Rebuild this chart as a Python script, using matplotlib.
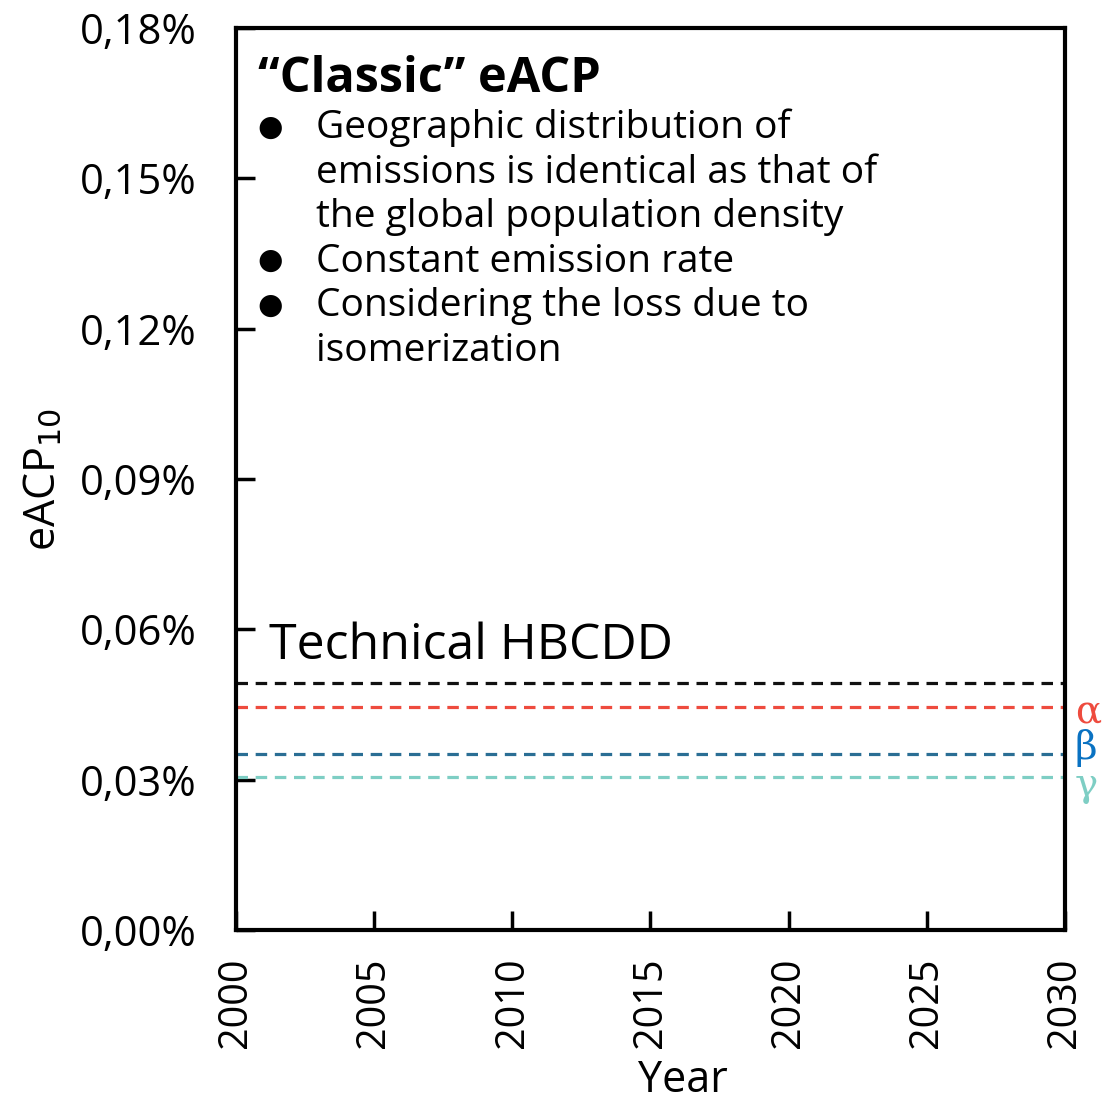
import numpy as np
import matplotlib.pyplot as plt
from matplotlib.ticker import FuncFormatter

plt.rcParams['font.family'] = ['Open Sans', 'DejaVu Sans']

### data
years = [2000, 2030]
isomers = ['Technical HBCDD', 'α', 'β', 'γ']
eacp = [0.0492, 0.0446, 0.0351, 0.0306]   # [%]
line_colors = ['#111111', '#EE4B3E', '#2A6E94', '#7ECEC4']
label_colors = [None, '#EE4B3E', '#0A72C2', '#7ECEC4']
label_shift = [0, -0.0011, 0.0012, -0.0018]

notes = [
    ['Geographic distribution of', 'emissions is identical as that of',
     'the global population density'],
    ['Constant emission rate'],
    ['Considering the loss due to', 'isomerization'],
]

### plot
fig = plt.figure(figsize=(11.14, 11.01), dpi=100)
ax = fig.add_axes([0.2118, 0.1553, 0.7442, 0.8193])

for val, col in zip(eacp, line_colors):
    ax.plot(years, [val, val], ls=(0, (3.6, 2.4)), lw=2.3, color=col)

ax.set_xlim(2000, 2030)
ax.set_ylim(0, 0.18)
ax.set_xticks(np.arange(2000, 2031, 5))
ax.set_yticks(np.arange(0, 0.181, 0.03))
ax.yaxis.set_major_formatter(FuncFormatter(lambda v, p: f'{v:.2f}%'.replace('.', ',')))
ax.tick_params(direction='in', length=14, width=2.5, labelsize=30)
ax.tick_params(axis='x', pad=20, labelsize=28.5)
ax.tick_params(axis='y', pad=28)
for lbl in ax.get_xticklabels():
    lbl.set_rotation(90)
for sp in ax.spines.values():
    sp.set_linewidth(3)

ax.set_xlabel('Year', fontsize=31)
ax.xaxis.set_label_coords(0.539, -0.142)
ax.set_ylabel('eACP$_{10}$', fontsize=31)
ax.yaxis.set_label_coords(-0.205, 0.5)

# text annotations
ax.text(0.027, 0.943, '\u201cClassic\u201d eACP', transform=ax.transAxes,
        fontsize=35, fontweight='bold', va='center')
line_h = 44.6 / 902
row = 0
for note in notes:
    y = (930 - 128) / 902 - row * line_h
    ax.text(0.026, y, '\u25CF', transform=ax.transAxes, fontsize=21, va='center')
    for line in note:
        y = (930 - 128) / 902 - row * line_h
        ax.text(0.097, y, line, transform=ax.transAxes, fontsize=28, va='center')
        row += 1

ax.text(0.04, eacp[0] + 0.0025, isomers[0], fontsize=36, va='bottom',
        transform=ax.get_yaxis_transform())
for name, val, col, sh in zip(isomers[1:], eacp[1:], label_colors[1:], label_shift[1:]):
    ax.text(1.012, val + sh, name, color=col, fontsize=28, va='center',
            family='DejaVu Serif', transform=ax.get_yaxis_transform(), clip_on=False)

fig.savefig('out.png', dpi=100)
